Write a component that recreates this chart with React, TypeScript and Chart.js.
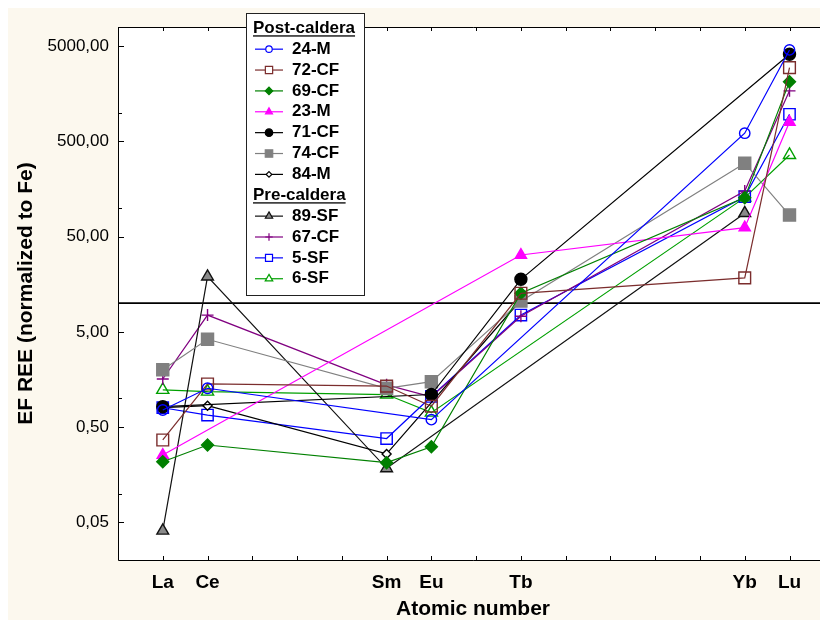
import React, { useEffect, useRef } from 'react';
import { Chart, registerables } from 'chart.js';
import { drawPoint } from 'chart.js/helpers';

Chart.register(...registerables);

// ---- data ----
const elements = ['La', 'Ce', 'Sm', 'Eu', 'Tb', 'Yb', 'Lu'];
const atomicNumbers = [57, 58, 62, 63, 65, 70, 71];
const yTickValues = [0.05, 0.5, 5, 50, 500, 5000];
const yMinorTickValues = [0.1, 1, 10, 100, 1000];
const referenceLevel = 10;

const s24M = [0.757, 1.28, null, 0.6, null, 607, 4540];
const s72CF = [0.367, 1.42, 1.35, 0.83, 12.7, 18.4, 2960];
const s69CF = [0.217, 0.325, 0.212, 0.312, 12.7, 128, 2110];
const s23M = [0.255, null, null, null, 32, 62, 796];
const s71CF = [0.82, null, null, 1.1, 17.8, null, 4090];
const s74CF = [2.0, 4.18, 1.28, 1.5, 10.5, 294, 84];
const s84M = [0.8, 0.84, 0.262, null, 10.8, null, null];
const s89SF = [0.041, 19, 0.185, null, null, 88, null];
const s67CF = [1.6, 7.5, 1.39, 1.04, 7.3, 150, 1690];
const s5SF = [0.8, 0.67, 0.38, 1.05, 7.5, 131, 960];
const s6SF = [1.23, 1.18, 1.1, 0.71, null, 128, 359];

const postLabel = 'Post-caldera';
const preLabel = 'Pre-caldera';

type Def = { label: string; values: (number | null)[]; color: string; style: string; r: number; bg: string; group: 'post' | 'pre' };

const defs: Def[] = [
  { label: '24-M', values: s24M, color: '#0000ff', style: 'circle', r: 5.2, bg: 'rgba(0,0,0,0)', group: 'post' },
  { label: '72-CF', values: s72CF, color: '#7b2d2d', style: 'rect', r: 8.3, bg: 'rgba(0,0,0,0)', group: 'post' },
  { label: '69-CF', values: s69CF, color: '#008000', style: 'rectRot', r: 6, bg: '#008000', group: 'post' },
  { label: '23-M', values: s23M, color: '#ff00ff', style: 'triangle', r: 6.5, bg: '#ff00ff', group: 'post' },
  { label: '71-CF', values: s71CF, color: '#000000', style: 'circle', r: 6, bg: '#000000', group: 'post' },
  { label: '74-CF', values: s74CF, color: '#808080', style: 'rect', r: 8.5, bg: '#808080', group: 'post' },
  { label: '84-M', values: s84M, color: '#000000', style: 'rectRot', r: 4.5, bg: '#ffffff', group: 'post' },
  { label: '89-SF', values: s89SF, color: '#111111', style: 'triangle', r: 6.8, bg: '#8a8a8a', group: 'pre' },
  { label: '67-CF', values: s67CF, color: '#800080', style: 'cross', r: 6, bg: 'rgba(0,0,0,0)', group: 'pre' },
  { label: '5-SF', values: s5SF, color: '#0000ff', style: 'rect', r: 8, bg: 'rgba(0,0,0,0)', group: 'pre' },
  { label: '6-SF', values: s6SF, color: '#00a000', style: 'triangle', r: 7, bg: 'rgba(0,0,0,0)', group: 'pre' },
];

const FONT = '"Liberation Sans", Arial, sans-serif';
const BEIGE = '#fcf8ee';

const fmt = (v: number) => v.toFixed(2).replace('.', ',');

// stretch the plot area to the right edge of the canvas (the reference plot is cropped there)
const stretchPlugin = {
  id: 'stretchRight',
  afterLayout(chart: any) {
    const xs = chart.scales.x;
    const targetRight = chart.width;
    chart.chartArea.right = targetRight;
    chart.chartArea.width = targetRight - chart.chartArea.left;
    xs.right = targetRight;
    xs.width = targetRight - xs.left;
    xs.configure();
  },
};

const framePlugin = {
  id: 'frame',
  beforeDraw(chart: any) {
    const { ctx, chartArea: a, width, height } = chart;
    ctx.save();
    ctx.fillStyle = BEIGE;
    ctx.fillRect(0, 0, width, height);
    ctx.fillStyle = '#ffffff';
    ctx.fillRect(a.left, a.top, a.right - a.left + 2, a.bottom - a.top);
    ctx.restore();
  },
  beforeDatasetsDraw(chart: any) {
    const { ctx, chartArea: a, scales } = chart;
    const xs = scales.x;
    const ys = scales.y;
    ctx.save();
    ctx.strokeStyle = '#000';
    ctx.lineWidth = 1;
    ctx.beginPath();
    ctx.moveTo(a.right + 2, a.top + 0.5);
    ctx.lineTo(a.left + 0.5, a.top + 0.5);
    ctx.lineTo(a.left + 0.5, a.bottom + 0.5);
    ctx.lineTo(a.right + 2, a.bottom + 0.5);
    ctx.stroke();
    ctx.beginPath();
    for (let n = Math.ceil(xs.min); n <= xs.max; n++) {
      const px = Math.round(xs.getPixelForValue(n)) + 0.5;
      ctx.moveTo(px, a.bottom);
      ctx.lineTo(px, a.bottom - 4);
      ctx.moveTo(px, a.top);
      ctx.lineTo(px, a.top + 4);
    }
    yTickValues.forEach((v) => {
      const py = Math.round(ys.getPixelForValue(v)) + 0.5;
      ctx.moveTo(a.left, py);
      ctx.lineTo(a.left + 6, py);
    });
    yMinorTickValues.forEach((v) => {
      const py = Math.round(ys.getPixelForValue(v)) + 0.5;
      ctx.moveTo(a.left, py);
      ctx.lineTo(a.left + 4, py);
    });
    ctx.stroke();
    const ry = ys.getPixelForValue(referenceLevel);
    ctx.lineWidth = 1.8;
    ctx.beginPath();
    ctx.moveTo(a.left, ry);
    ctx.lineTo(a.right + 2, ry);
    ctx.stroke();
    ctx.restore();
  },
};

const legendPlugin = {
  id: 'boxLegend',
  afterDraw(chart: any) {
    const { ctx } = chart;
    const boxL = 238, boxT = 5, boxR = 356, boxB = 287;
    const rowY0 = 20.3, rowH = 20.87;
    ctx.save();
    ctx.fillStyle = '#ffffff';
    ctx.fillRect(boxL, boxT, boxR - boxL, boxB - boxT);
    ctx.strokeStyle = '#222';
    ctx.lineWidth = 1;
    ctx.strokeRect(boxL + 0.5, boxT + 0.5, boxR - boxL, boxB - boxT);

    const rows: (string | number)[] = [postLabel];
    defs.forEach((d, i) => { if (d.group === 'post') rows.push(i); });
    rows.push(preLabel);
    defs.forEach((d, i) => { if (d.group === 'pre') rows.push(i); });

    ctx.font = `bold 17px ${FONT}`;
    ctx.textBaseline = 'middle';
    rows.forEach((row, k) => {
      const y = rowY0 + k * rowH;
      if (typeof row === 'string') {
        ctx.fillStyle = '#000';
        ctx.textAlign = 'left';
        ctx.fillText(row, 245, y);
        const w = ctx.measureText(row).width;
        ctx.fillRect(245, y + 7, w, 1.3);
      } else {
        const d = defs[row];
        ctx.strokeStyle = d.color;
        ctx.lineWidth = 1.2;
        ctx.beginPath();
        ctx.moveTo(247, y);
        ctx.lineTo(275, y);
        ctx.stroke();
        ctx.fillStyle = d.bg === 'rgba(0,0,0,0)' ? '#ffffff' : d.bg;
        ctx.lineWidth = 1.2;
        drawPoint(ctx, { pointStyle: d.style as any, rotation: 0, radius: d.r * 0.62, borderWidth: 1.2 } as any, 261, y);
        ctx.fillStyle = '#000';
        ctx.textAlign = 'left';
        ctx.fillText(d.label, 284, y);
      }
    });
    ctx.restore();
  },
};

export default function App() {
  const canvasRef = useRef<HTMLCanvasElement | null>(null);

  useEffect(() => {
    document.documentElement.style.overflow = 'hidden';
    document.body.style.overflow = 'hidden';
    const canvas = canvasRef.current;
    if (!canvas) return;
    const datasets = defs.map((d) => ({
      label: d.label,
      data: atomicNumbers
        .map((x, i) => ({ x, y: d.values[i] }))
        .filter((p) => p.y !== null) as { x: number; y: number }[],
      borderColor: d.color,
      borderWidth: 1.2,
      backgroundColor: d.bg,
      pointStyle: d.style as any,
      pointRadius: d.r,
      pointBorderColor: d.color,
      pointBackgroundColor: d.bg,
      pointBorderWidth: 1.4,
      fill: false,
      tension: 0,
    }));

    const chart = new Chart(canvas, {
      type: 'line',
      data: { datasets },
      plugins: [stretchPlugin, framePlugin, legendPlugin],
      options: {
        animation: false,
        responsive: false,
        devicePixelRatio: 1,
        clip: false,
        layout: { padding: { left: 0, right: 0, top: 19, bottom: 0 } },
        plugins: { legend: { display: false }, tooltip: { enabled: false } },
        scales: {
          x: {
            type: 'linear',
            min: 56,
            max: 71.86,
            grid: { display: false, drawTicks: false },
            border: { display: false },
            afterBuildTicks: (scale: any) => {
              scale.ticks = atomicNumbers.map((v) => ({ value: v }));
            },
            afterFit: (scale: any) => {
              scale.height = 60;
              scale.paddingLeft = 0;
              scale.paddingRight = 0;
            },
            ticks: {
              padding: 11,
              color: '#000',
              font: { family: FONT, size: 19, weight: 'bold' },
              autoSkip: false,
              maxRotation: 0,
              callback: (v: any) => {
                const i = atomicNumbers.indexOf(Number(v));
                return i >= 0 ? elements[i] : '';
              },
            },
            title: {
              display: true,
              text: 'Atomic number',
              color: '#000',
              font: { family: FONT, size: 21, weight: 'bold', lineHeight: 1 },
              padding: { top: 0, bottom: 0 },
            },
          },
          y: {
            type: 'logarithmic',
            min: 0.0202,
            max: 7900,
            grid: { display: false, drawTicks: false },
            border: { display: false },
            afterBuildTicks: (scale: any) => {
              scale.ticks = yTickValues.map((v) => ({ value: v, major: true }));
            },
            afterFit: (scale: any) => {
              scale.width = 110;
              scale.paddingTop = 0;
              scale.paddingBottom = 0;
            },
            ticks: {
              padding: 9,
              color: '#000',
              font: { family: FONT, size: 17 },
              autoSkip: false,
              callback: (v: any) => fmt(Number(v)),
            },
            title: {
              display: true,
              text: 'EF REE (normalized to Fe)',
              color: '#000',
              font: { family: FONT, size: 21, weight: 'bold', lineHeight: 1 },
              padding: { top: 8, bottom: 0 },
            },
          },
        },
      } as any,
    });
    return () => chart.destroy();
  }, []);

  return (
    <div style={{ width: 820, height: 612 }}>
      <canvas ref={canvasRef} width={820} height={612} style={{ display: 'block', width: 820, height: 612 }} />
    </div>
  );
}
